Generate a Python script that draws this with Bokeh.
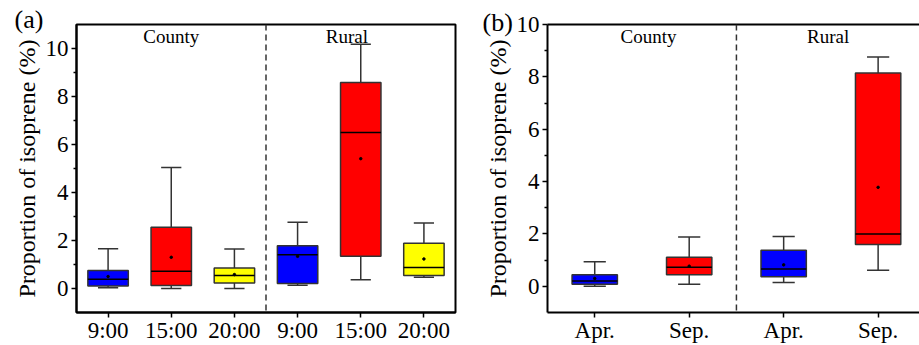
from bokeh.plotting import figure
from bokeh.models import ColumnDataSource, Range1d, FixedTicker, LinearAxis, Span
from bokeh.layouts import row
from bokeh.embed import file_html
from bokeh.resources import INLINE
from bokeh.core.properties import value

FONT = "Liberation Serif"

# ---------------- data: panel (a) ----------------
a_labels = ["9:00", "15:00", "20:00", "9:00", "15:00", "20:00"]
a_wlo = [0.03, 0.00, 0.00, 0.14, 0.36, 0.47]
a_q1 = [0.10, 0.12, 0.23, 0.21, 1.34, 0.54]
a_med = [0.39, 0.72, 0.54, 1.41, 6.50, 0.87]
a_q3 = [0.75, 2.55, 0.85, 1.78, 8.58, 1.89]
a_whi = [1.66, 5.04, 1.65, 2.76, 10.18, 2.73]
a_mean = [0.50, 1.30, 0.58, 1.34, 5.41, 1.23]
a_colors = ["#0000FF", "#FF0000", "#FFFF00", "#0000FF", "#FF0000", "#FFFF00"]
a_groups = ["County", "Rural"]
a_group_x = [2.0, 4.78]

# ---------------- data: panel (b) ----------------
b_labels = ["Apr.", "Sep.", "Apr.", "Sep."]
b_wlo = [0.00, 0.08, 0.15, 0.61]
b_q1 = [0.08, 0.44, 0.37, 1.60]
b_med = [0.20, 0.73, 0.66, 2.00]
b_q3 = [0.44, 1.11, 1.38, 8.15]
b_whi = [0.94, 1.88, 1.90, 8.76]
b_mean = [0.30, 0.77, 0.82, 3.78]
b_colors = ["#0000FF", "#FF0000", "#0000FF", "#FF0000"]
b_groups = ["County", "Rural"]
b_group_x = [1.57, 3.47]

y_ticks = [0, 2, 4, 6, 8, 10]
y_minor = [1, 3, 5, 7, 9]


def panel(labels, wlo, q1, med, q3, whi, mean, colors, groups, group_x, group_y,
          y0, y1, x1, dash_x, width, height, bl, br, bt, bb,
          box_w, cap_w, outline, tag, tag_offset, tag_standoff):
    xs = list(range(1, len(labels) + 1))
    src = ColumnDataSource(dict(
        x=xs, wlo=wlo, q1=q1, med=med, q3=q3, whi=whi, mean=mean, color=colors,
        cl=[x - cap_w / 2 for x in xs], cr=[x + cap_w / 2 for x in xs],
        bl=[x - box_w / 2 for x in xs], br=[x + box_w / 2 for x in xs]))
    p = figure(width=width, height=height, x_range=Range1d(0.5, x1),
               y_range=Range1d(y0, y1), output_backend="svg", toolbar_location=None,
               min_border_left=bl, min_border_right=br, min_border_top=bt,
               min_border_bottom=bb)
    p.xgrid.visible = False
    p.ygrid.visible = False
    p.background_fill_color = "white"
    p.border_fill_color = "white"
    xa = p.below[0]
    ya = p.left[0]
    if outline:
        p.outline_line_color = "black"
        p.outline_line_width = 2
    else:
        p.outline_line_color = None
        top = LinearAxis(ticker=FixedTicker(ticks=[]), axis_line_width=2,
                         axis_line_color="black", major_tick_line_color=None,
                         minor_tick_line_color=None, major_label_text_font_size="0px")
        p.add_layout(top, "above")

    p.title.text = tag
    p.title.align = "left"
    p.title.offset = tag_offset
    p.title.standoff = tag_standoff
    p.title.text_font = FONT
    p.title.text_font_size = "26px"
    p.title.text_font_style = "normal"
    p.title.text_color = "black"

    wc = "#333333"
    p.add_layout(Span(location=dash_x, dimension="height", line_dash="6 4",
                      line_color=wc, line_width=1.5))
    p.segment(x0="x", y0="q3", x1="x", y1="whi", source=src, line_color=wc, line_width=1.5)
    p.segment(x0="x", y0="wlo", x1="x", y1="q1", source=src, line_color=wc, line_width=1.5)
    p.segment(x0="cl", y0="whi", x1="cr", y1="whi", source=src, line_color=wc, line_width=1.5)
    p.segment(x0="cl", y0="wlo", x1="cr", y1="wlo", source=src, line_color=wc, line_width=1.5)
    p.vbar(x="x", width=box_w, top="q3", bottom="q1", fill_color="color",
           line_color=wc, line_width=1.5, source=src)
    p.segment(x0="bl", y0="med", x1="br", y1="med", source=src, line_color="black", line_width=1.5)
    p.scatter(x="x", y="mean", source=src, size=2.5, color="black")

    p.text(x=group_x, y=[group_y] * len(groups), text=groups, text_font=value(FONT),
           text_font_size="19px", text_align="center", text_baseline="middle",
           text_color="black")

    xa.ticker = FixedTicker(ticks=xs)
    xa.major_label_overrides = {x: lab for x, lab in zip(xs, labels)}
    xa.minor_tick_line_color = None
    ya.ticker = FixedTicker(ticks=y_ticks, minor_ticks=y_minor)
    ya.axis_label = "Proportion of isoprene (%)"
    ya.axis_label_text_font = FONT
    ya.axis_label_text_font_size = "24px"
    ya.axis_label_text_font_style = "normal"
    ya.axis_label_text_color = "black"
    ya.axis_label_standoff = 3
    for ax in (xa, ya):
        ax.axis_line_width = 2
        ax.axis_line_color = "black"
        ax.major_tick_line_width = 1.5
        ax.major_tick_line_color = "black"
        ax.major_tick_out = 5
        ax.major_tick_in = 0
        ax.minor_tick_out = 3
        ax.minor_tick_in = 0
        ax.minor_tick_line_width = 1.5
        ax.major_label_text_font = FONT
        ax.major_label_text_font_size = "23px"
        ax.major_label_text_color = "black"
    ya.major_label_standoff = 3
    xa.major_label_standoff = 0
    return p


pa = panel(a_labels, a_wlo, a_q1, a_med, a_q3, a_whi, a_mean, a_colors,
           a_groups, a_group_x, 10.5, -1, 11, 6.5, 3.5,
           478, 345, 76, 23, 22, 33, 0.64, 0.32, True, "(a)", -62, -18)

pb = panel(b_labels, b_wlo, b_q1, b_med, b_q3, b_whi, b_mean, b_colors,
           b_groups, b_group_x, 9.56, -1, 10, 4.438, 2.5,
           441, 345, 69, 0, 24, 31, 0.48, 0.235, False, "(b)", -65, -24)

layout = row(pa, pb)
open("out.html", "w").write(file_html(layout, INLINE))
